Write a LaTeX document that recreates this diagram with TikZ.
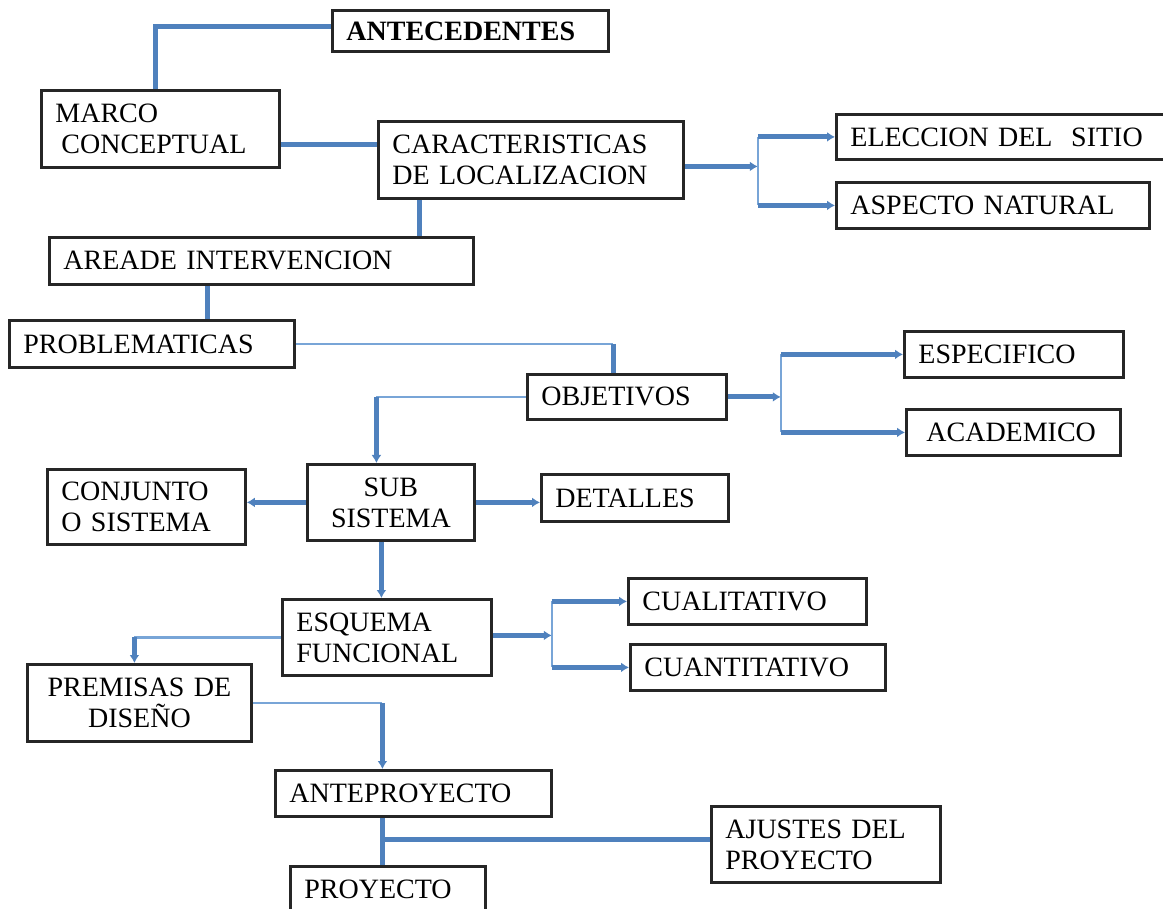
\documentclass[tikz,border=0pt]{standalone}
\usepackage{fontspec}
\setmainfont{Liberation Serif}
\usetikzlibrary{arrows.meta, positioning}

\definecolor{azul}{RGB}{79,129,189}
\definecolor{azulclaro}{RGB}{120,165,215}

\begin{document}
\begin{tikzpicture}[x=0.5pt, y=-0.5pt, font=\fontsize{14}{15.5}\selectfont,
  caja/.style 2 args={draw=black!85, line width=1.4pt, anchor=north west,
    inner xsep=7pt, inner ysep=0pt, align=left, text width=#1, minimum height=#2},
  grueso/.style={draw=azul, line width=2.5pt},
  fino/.style={draw=azulclaro, line width=1.2pt},
  flecha/.style={-{Latex[length=4pt,width=5pt]}}]

  \useasboundingbox (0,0) rectangle (1163,909);

  % ===== CAJAS =====
  \node[caja={124pt}{20.5pt}] (ante) at (331,9) {\textbf{ANTECEDENTES}};
  \node[caja={105pt}{38.5pt}] (marco) at (40,89) {MARCO\\\hspace*{3pt}CONCEPTUAL};
  \node[caja={138.5pt}{38.5pt}] (carac) at (377,120) {CARACTERISTICAS\\DE LOCALIZACION};
  \node[caja={198pt}{23.5pt}] (area) at (48,236) {AREADE INTERVENCION};
  \node[caja={156pt}{22.5pt}] (elec) at (835,113) {ELECCION DEL\ \ SITIO};
  \node[caja={142.5pt}{23pt}] (aspec) at (835,181) {ASPECTO NATURAL};
  \node[caja={128.5pt}{23.5pt}] (prob) at (8,319) {PROBLEMATICAS};
  \node[caja={85.5pt}{22.5pt}] (obj) at (526,373) {OBJETIVOS};
  \node[caja={95.5pt}{23pt}] (esp) at (903,330) {ESPECIFICO};
  \node[caja={93pt}{23pt}] (acad) at (905,408) {\hspace*{3pt}ACADEMICO};
  \node[caja={69.5pt}{38pt}, align=center] (sub) at (306,463) {SUB\\SISTEMA};
  \node[caja={85pt}{37.5pt}] (conj) at (46,468) {CONJUNTO\\O SISTEMA};
  \node[caja={79.5pt}{23.5pt}] (det) at (540,473) {DETALLES};
  \node[caja={90.5pt}{38pt}] (esq) at (281,598) {ESQUEMA\\FUNCIONAL};
  \node[caja={105pt}{23pt}] (cual) at (627,577) {CUALITATIVO};
  \node[caja={113.5pt}{23pt}] (cuan) at (629,643) {CUANTITATIVO};
  \node[caja={98pt}{38.5pt}, align=center] (prem) at (26,663) {PREMISAS DE\\DISEÑO};
  \node[caja={124pt}{23pt}] (antep) at (274,769) {ANTEPROYECTO};
  \node[caja={83.5pt}{23pt}] (proy) at (289,865) {PROYECTO};
  \node[caja={100.5pt}{38pt}] (ajus) at (710,805) {AJUSTES DEL\\PROYECTO};

  % ===== CONECTORES =====
  \draw[grueso] ([xshift=-2.5pt]marco.north) |- ([yshift=2pt]ante.west);
  \draw[grueso] ([yshift=7.5pt]carac.west) -- ([yshift=7.5pt]carac.west -| marco.east);
  \draw[grueso] ([xshift=21pt]carac.south west) -- ([xshift=21pt]carac.south west |- area.north);
  \draw[grueso] ([xshift=79.5pt]area.south west) -- ([xshift=79.5pt]area.south west |- prob.north);

  % localizacion
  \coordinate (rC) at ([xshift=36.5pt, yshift=-3.25pt]carac.east);
  \draw[grueso, flecha] (rC -| carac.east) -- (rC);
  \draw[fino] (rC |- elec.west) -- (rC |- aspec.west);
  \draw[grueso, flecha] (rC |- elec.west) -- (elec.west);
  \draw[grueso, flecha] (rC |- aspec.west) -- (aspec.west);

  % problematicas - objetivos
  \coordinate (oN) at ([xshift=-6.75pt]obj.north);
  \draw[fino] (prob.east) -- (prob.east -| oN);
  \draw[grueso] (prob.east -| oN) -- (oN);

  % objetivos - sub sistema
  \coordinate (sN) at ([xshift=-7.25pt]sub.north);
  \draw[fino] (obj.west) -- (obj.west -| sN);
  \draw[grueso, flecha] (obj.west -| sN) -- (sN);

  % objetivos
  \coordinate (rO) at ([xshift=26.5pt]obj.east);
  \draw[grueso, flecha] (obj.east) -- (rO);
  \draw[fino] (rO |- esp.west) -- (rO |- acad.west);
  \draw[grueso, flecha] (rO |- esp.west) -- (esp.west);
  \draw[grueso, flecha] (rO |- acad.west) -- (acad.west);

  % sub sistema
  \draw[grueso, flecha] (sub.west) -- (sub.west -| conj.east);
  \draw[grueso, flecha] (sub.east) -- (sub.east -| det.west);
  \coordinate (sS) at ([xshift=-4.75pt]sub.south);
  \draw[grueso, flecha] (sS) -- (sS |- esq.north);

  % esquema funcional
  \coordinate (pN) at ([xshift=-2.5pt]prem.north);
  \draw[fino] (esq.west) -- (esq.west -| pN);
  \draw[grueso, flecha] (esq.west -| pN) -- (pN);
  \coordinate (rE) at ([xshift=29.5pt, yshift=1pt]esq.east);
  \draw[grueso, flecha] (rE -| esq.east) -- (rE);
  \draw[fino] (rE |- cual.west) -- (rE |- cuan.west);
  \draw[grueso, flecha] (rE |- cual.west) -- (cual.west);
  \draw[grueso, flecha] (rE |- cuan.west) -- (cuan.west);

  % premisas - anteproyecto - proyecto
  \coordinate (aN) at ([xshift=-15.5pt]antep.north);
  \draw[fino] (prem.east) -- (prem.east -| aN);
  \draw[grueso, flecha] (prem.east -| aN) -- (aN);
  \coordinate (aS) at ([xshift=-15.5pt]antep.south);
  \coordinate (aJ) at ([yshift=2.5pt]ajus.west);
  \draw[grueso] (aS) -- (aS |- proy.north);
  \draw[grueso] (aS |- aJ) -- (aJ);
\end{tikzpicture}
\end{document}
